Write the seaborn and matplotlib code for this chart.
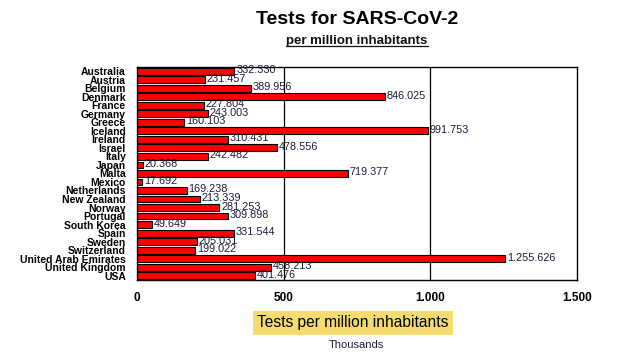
import matplotlib
matplotlib.use("Agg")
import matplotlib.pyplot as plt
import seaborn as sns
import pandas as pd
from matplotlib.ticker import FuncFormatter

countries = ["Australia", "Austria", "Belgium", "Denmark", "France", "Germany", "Greece",
             "Iceland", "Ireland", "Israel", "Italy", "Japan", "Malta", "Mexico",
             "Netherlands", "New Zealand", "Norway", "Portugal", "South Korea", "Spain",
             "Sweden", "Switzerland", "United Arab Emirates", "United Kingdom", "USA"]
tests_per_million = [332330, 231457, 389956, 846025, 227804, 243003, 160103,
                     991753, 310431, 478556, 242482, 20368, 719377, 17692,
                     169238, 213339, 281253, 309898, 49649, 331544,
                     205031, 199022, 1255626, 458213, 401476]
x_ticks = [0, 500, 1000, 1500]

df = pd.DataFrame({"country": countries, "value": [v / 1000 for v in tests_per_million]})

sns.set_style("white")
plt.rcParams['font.family'] = ['Liberation Sans', 'DejaVu Sans']
plt.rcParams['text.color'] = 'black'
plt.rcParams['xtick.color'] = 'black'
plt.rcParams['ytick.color'] = 'black'

fig = plt.figure(figsize=(6.34, 3.58), dpi=100)
ax = fig.add_axes([0.216, 0.218, 0.694, 0.595])

sns.barplot(data=df, y="country", x="value", orient="h", color="#ff0000",
            edgecolor="black", linewidth=0.8, width=0.8, saturation=1, ax=ax)

def fmt(v):
    return f"{v:,}".replace(",", ".")

for i, v in enumerate(tests_per_million):
    ax.text(v / 1000 + 6, i - 0.12, fmt(v), fontsize=7.8, color="#1c1c3c",
            va="center", ha="left")

ax.set_xlim(0, 1500)
ax.set_ylim(len(countries) - 0.5, -0.5)
ax.set_xticks(x_ticks)
ax.xaxis.set_major_formatter(FuncFormatter(lambda x, p: fmt(int(x))))
for t in x_ticks[1:-1]:
    ax.axvline(t, color="black", linewidth=0.9, zorder=0)
ax.tick_params(axis="x", length=0, pad=9, labelsize=8.5, labelcolor="black")
ax.tick_params(axis="y", length=0, pad=8, labelsize=7.5, labelcolor="black")
for lab in ax.get_xticklabels() + ax.get_yticklabels():
    lab.set_fontweight("bold")
for s in ax.spines.values():
    s.set_visible(True)
    s.set_color("black")
    s.set_linewidth(1.0)
ax.set_xlabel("")
ax.set_ylabel("")

fig.text(0.563, 0.945, "Tests for SARS-CoV-2", ha="center", va="center",
         fontsize=14, fontweight="bold", color="black")
sub = fig.text(0.563, 0.885, "per million inhabitants", ha="center", va="center",
               fontsize=9.5, fontweight="bold", color="#111111")

fig.text(0.557, 0.098, "Tests per million inhabitants", ha="center", va="center",
         fontsize=11.2, color="black",
         bbox=dict(boxstyle="square,pad=0.3", facecolor="#f5dc6e", edgecolor="none"))
fig.text(0.562, 0.036, "Thousands", ha="center", va="center", fontsize=8, color="#1c1c3c")

fig.canvas.draw()
bb = sub.get_window_extent().transformed(fig.transFigure.inverted())
fig.add_artist(plt.Line2D([bb.x0, bb.x1], [bb.y0 + 0.004, bb.y0 + 0.004],
                          color="#111111", linewidth=0.9))

fig.savefig("out.png", dpi=100)
